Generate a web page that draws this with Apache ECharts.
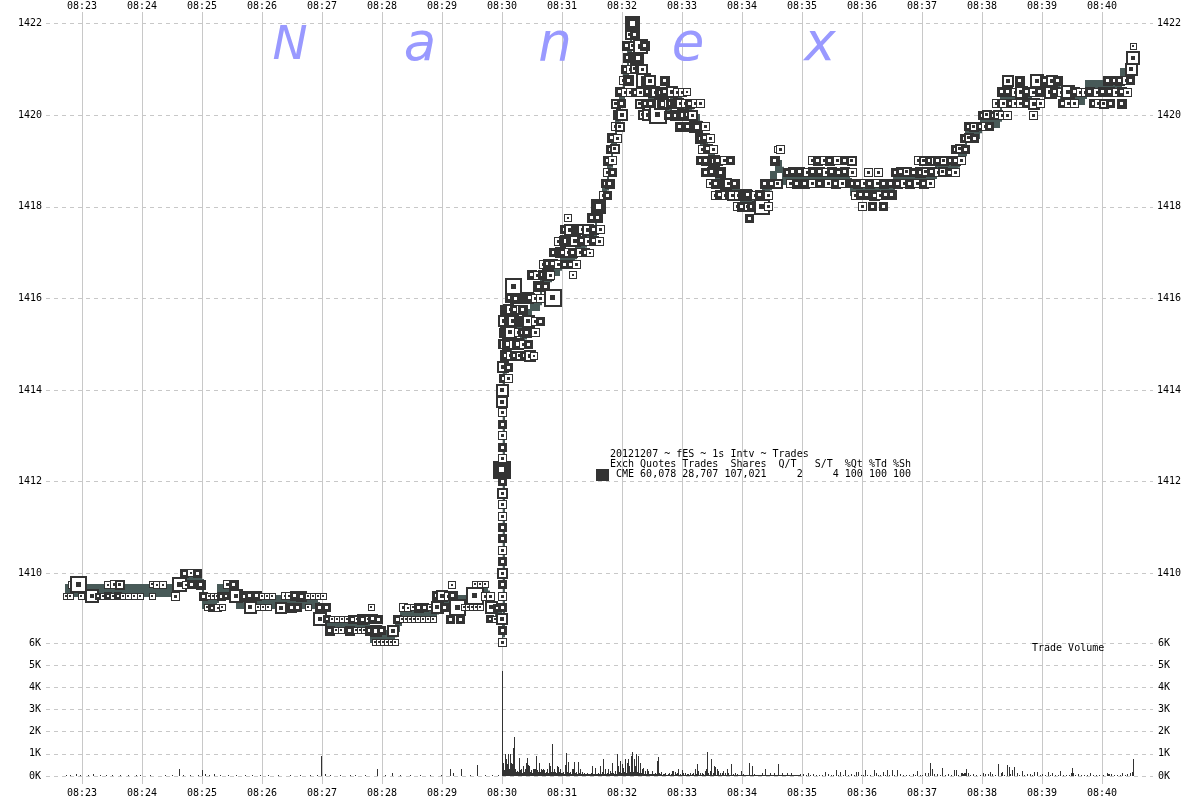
<!DOCTYPE html>
<html><head><meta charset="utf-8">
<script src="https://cdn.jsdelivr.net/npm/echarts@6/dist/echarts.min.js"></script>
<style>html,body{margin:0;padding:0;background:#fff}#c{width:1200px;height:800px}</style>
</head><body><div id="c"></div>
<script>
// time values are seconds after 08:00:00
const baseHour = 8;
const priceLabels = [1410, 1412, 1414, 1416, 1418, 1420, 1422];
const volLabelsK = [0, 1, 2, 3, 4, 5, 6];

// trades: [second, price, lots, filled(1)/hollow(0)]
const trades = [
[1364,1409.5,1,0],[1368,1409.5,1,0],[1379,1409.5,1,0],[1390,1409.5,15,0],[1396,1409.5,1,1],[1401,1409.5,1,0],[1406,1409.5,2,1],[1411,1409.5,1,0],[1416,1409.5,2,1],[1421,1409.5,1,0],[1426,1409.5,1,0],[1432,1409.5,1,0],[1438,1409.5,1,0],[1450,1409.5,1,0],[1473,1409.5,3,0],
[1370,1409.75,2,0],[1376,1409.75,25,0],[1406,1409.75,2,0],[1412,1409.75,3,0],[1418,1409.75,4,0],[1450,1409.75,1,0],[1455,1409.75,2,0],[1461,1409.75,2,0],[1477,1409.75,20,0],[1484,1409.75,2,0],[1489,1409.75,3,1],[1495,1409.75,3,1],[1499,1409.75,4,1],
[1482,1410,3,1],[1489,1410,2,0],[1495,1410,3,1],
[1501,1409.5,3,1],[1507,1409.5,1,0],[1511,1409.5,1,0],[1515,1409.5,1,0],[1519,1409.5,3,1],[1524,1409.5,2,1],[1534,1409.5,15,0],[1542,1409.5,6,1],[1548,1409.5,5,1],[1555,1409.5,4,1],[1560,1409.5,1,0],[1565,1409.5,1,0],[1570,1409.5,1,0],[1583,1409.5,2,0],[1587,1409.5,2,0],[1593,1409.5,5,1],[1599,1409.5,6,1],[1606,1409.5,1,0],[1611,1409.5,1,0],[1616,1409.5,1,0],[1621,1409.5,1,0],
[1525,1409.75,3,0],[1532,1409.75,4,1],
[1505,1409.25,1,0],[1510,1409.25,2,1],[1516,1409.25,2,0],[1520,1409.25,1,0],[1548,1409.25,12,0],[1556,1409.25,1,0],[1561,1409.25,1,0],[1566,1409.25,1,0],[1579,1409.25,10,0],[1590,1409.25,4,1],[1595,1409.25,3,1],[1606,1409.25,1,0],[1618,1409.25,4,1],[1624,1409.25,3,1],
[1618,1409,15,0],
[1625,1409,2,1],[1630,1409,1,0],[1635,1409,1,0],[1640,1409,1,0],[1645,1409,1,0],[1650,1409,3,1],[1655,1409,1,0],[1660,1409,6,1],[1666,1409,1,0],[1671,1409,4,1],[1676,1409,3,1],
[1628,1408.75,5,1],[1634,1408.75,1,0],[1639,1408.75,1,0],[1648,1408.75,5,1],[1654,1408.75,1,0],[1658,1408.75,1,0],[1662,1408.75,1,0],[1668,1408.75,4,1],[1674,1408.75,8,1],[1679,1408.75,3,1],[1691,1408.75,10,0],
[1673,1408.5,1,0],[1677,1408.5,1,0],[1681,1408.5,1,0],[1685,1408.5,1,0],[1689,1408.5,1,0],[1693,1408.5,1,0],
[1669,1409.25,1,0],
[1695,1409,3,1],[1700,1409,1,0],[1704,1409,1,0],[1708,1409,1,0],[1712,1409,1,0],[1716,1409,1,0],[1721,1409,1,0],[1726,1409,1,0],[1731,1409,1,0],[1748,1409,3,1],[1758,1409,3,1],[1788,1409,2,1],[1793,1409,1,0],[1797,1409,1,0],
[1701,1409.25,3,0],[1706,1409.25,2,0],[1711,1409.25,1,0],[1717,1409.25,4,1],[1722,1409.25,3,1],[1728,1409.25,1,0],[1735,1409.25,12,0],[1742,1409.25,3,1],[1755,1409.25,25,0],[1762,1409.25,1,0],[1766,1409.25,1,0],[1770,1409.25,1,0],[1774,1409.25,1,0],[1778,1409.25,1,0],[1789,1409.25,12,0],[1795,1409.25,2,1],
[1735,1409.5,4,1],[1740,1409.5,8,0],[1746,1409.5,3,0],[1751,1409.5,4,1],[1773,1409.5,40,0],[1783,1409.5,3,0],[1788,1409.5,3,0],
[1750,1409.75,2,0],[1773,1409.75,1,0],[1778,1409.75,1,0],[1783,1409.75,1,0],
[1800,1408.5,3,0],[1800,1408.75,3,1],[1800,1409,8,0],[1800,1409.25,3,1],[1800,1409.5,3,0],[1800,1409.75,3,1],[1800,1410,6,0],[1800,1410.25,3,1],[1800,1410.5,3,0],[1800,1410.75,3,1],[1800,1411,3,1],[1800,1411.25,3,0],[1800,1411.5,3,0],[1800,1411.75,6,0],[1800,1412,3,1],[1800,1412.25,60,1],[1800,1412.5,3,0],[1800,1412.75,3,1],[1800,1413,3,0],[1800,1413.25,3,1],[1800,1413.5,3,0],[1800,1413.75,8,0],[1800,1414,12,0],
[1801,1414.25,3,1],[1806,1414.25,3,0],[1801,1414.5,10,0],[1806,1414.5,3,1],
[1802,1414.75,3,0],[1803,1414.75,6,1],[1808,1414.75,3,0],[1813,1414.75,4,1],[1818,1414.75,5,0],[1823,1414.75,4,1],[1828,1414.75,8,0],[1832,1414.75,2,0],
[1802,1415,3,0],[1801,1415,4,1],[1806,1415,8,1],[1811,1415,3,0],[1816,1415,8,1],[1821,1415,3,0],[1826,1415,3,1],
[1802,1415.25,4,1],[1803,1415.25,6,1],[1808,1415.25,12,0],[1816,1415.25,3,0],[1820,1415.25,3,1],[1825,1415.25,5,1],[1833,1415.25,3,0],
[1802,1415.5,10,0],[1801,1415.5,4,1],[1808,1415.5,10,1],[1811,1415.5,8,0],[1816,1415.5,3,0],[1818,1415.5,6,1],[1821,1415.5,6,1],[1826,1415.5,12,0],[1833,1415.5,3,0],[1838,1415.5,3,1],
[1803,1415.75,5,1],[1806,1415.75,6,1],[1808,1415.75,3,0],[1813,1415.75,5,1],[1818,1415.75,3,0],[1821,1415.75,5,1],
[1808,1416,5,1],[1813,1416,6,1],[1823,1416,6,1],[1826,1416,8,1],[1828,1416,5,1],[1833,1416,3,0],[1838,1416,3,0],[1851,1416,30,0],
[1811,1416.25,25,0],[1836,1416.25,6,1],[1843,1416.25,3,1],
[1830,1416.5,5,1],[1835,1416.5,3,0],[1841,1416.5,5,1],[1846,1416.5,8,1],[1848,1416.5,3,0],[1871,1416.5,2,0],
[1841,1416.75,3,0],[1846,1416.75,5,1],[1851,1416.75,5,1],[1856,1416.75,3,0],[1862,1416.75,3,1],[1868,1416.75,3,1],[1874,1416.75,3,0],
[1851,1417,3,1],[1856,1417,3,0],[1858,1417,6,1],[1861,1417,4,1],[1866,1417,3,0],[1871,1417,4,1],[1878,1417,3,0],[1883,1417,3,1],[1888,1417,2,0],
[1856,1417.25,3,0],[1862,1417.25,4,1],[1864,1417.25,8,1],[1868,1417.25,3,1],[1873,1417.25,8,0],[1880,1417.25,4,1],[1886,1417.25,3,0],[1892,1417.25,4,1],[1897,1417.25,3,0],
[1862,1417.5,3,1],[1868,1417.5,8,0],[1874,1417.5,4,1],[1877,1417.5,6,1],[1880,1417.5,3,0],[1886,1417.5,8,0],[1892,1417.5,5,1],[1898,1417.5,3,0],
[1866,1417.75,2,0],[1890,1417.75,4,1],[1896,1417.75,4,1],
[1896,1418,20,1],
[1901,1418.25,3,0],[1905,1418.25,3,1],[1903,1418.5,3,1],[1908,1418.5,4,1],[1905,1418.75,3,0],[1910,1418.75,3,1],[1906,1419,4,1],[1910,1419,3,0],[1908,1419.25,3,1],[1913,1419.25,4,0],[1910,1419.5,4,1],[1915,1419.5,3,0],[1913,1419.75,3,0],[1918,1419.75,4,0],[1916,1420,5,1],[1920,1420,8,0],[1914,1420.25,4,0],[1919,1420.25,3,1],
[1918,1420.5,5,1],[1923,1420.5,3,0],[1928,1420.5,3,0],[1933,1420.5,3,1],[1938,1420.5,3,0],
[1921,1420.75,3,0],[1926,1420.75,6,1],[1941,1420.75,20,0],
[1923,1421,3,1],[1928,1421,3,0],[1933,1421,4,0],[1938,1421,5,1],[1940,1421,6,0],
[1926,1421.25,5,1],[1931,1421.25,6,0],[1934,1421.25,8,1],[1936,1421.25,8,1],
[1925,1421.5,4,1],[1931,1421.5,5,0],[1938,1421.5,20,0],[1943,1421.5,4,1],
[1928,1421.75,4,0],[1933,1421.75,5,1],
[1930,1422,18,1],
[1944,1420.75,5,1],[1948,1420.75,8,0],[1963,1420.75,5,1],
[1946,1420.5,5,1],[1952,1420.5,10,1],[1953,1420.5,3,0],[1958,1420.5,6,1],[1963,1420.5,5,1],[1968,1420.5,3,0],[1970,1420.5,8,0],[1975,1420.5,3,0],[1980,1420.5,3,0],[1985,1420.5,2,0],
[1938,1420.25,4,0],[1943,1420.25,3,1],[1948,1420.25,3,1],[1958,1420.25,8,0],[1961,1420.25,8,1],[1966,1420.25,3,0],[1969,1420.25,5,1],[1973,1420.25,4,1],[1976,1420.25,6,1],[1978,1420.25,3,0],[1983,1420.25,3,0],[1988,1420.25,4,1],[1993,1420.25,3,0],[1998,1420.25,3,0],
[1941,1420,4,0],[1946,1420,8,0],[1951,1420,6,1],[1956,1420,30,0],[1966,1420,3,1],[1973,1420,6,1],[1978,1420,3,0],[1981,1420,10,1],[1986,1420,4,1],[1990,1420,6,0],
[1978,1419.75,4,1],[1986,1419.75,5,1],[1993,1419.75,8,0],[1995,1419.75,8,1],[2003,1419.75,3,0],
[1998,1419.5,6,1],[2003,1419.5,4,1],[2008,1419.5,3,0],
[2000,1419.25,3,0],[2006,1419.25,5,1],[2011,1419.25,3,0],
[1998,1419,3,1],[2004,1419,4,1],[2010,1419,3,0],[2012,1419,8,1],[2016,1419,5,1],[2022,1419,3,0],[2028,1419,3,1],
[2003,1418.75,3,1],[2010,1418.75,5,1],[2016,1418.75,3,0],[2018,1418.75,6,1],
[2008,1418.5,3,0],[2014,1418.5,4,1],[2020,1418.5,5,1],[2024,1418.5,8,1],[2026,1418.5,3,0],[2032,1418.5,3,0],[2033,1418.5,5,1],
[2013,1418.25,3,0],[2018,1418.25,5,1],[2023,1418.25,3,0],[2028,1418.25,4,1],[2030,1418.25,6,0],[2036,1418.25,3,0],[2041,1418.25,6,1],[2044,1418.25,8,1],[2046,1418.25,5,1],[2053,1418.25,3,0],[2058,1418.25,5,1],[2066,1418.25,3,0],
[2035,1418,3,0],[2040,1418,4,1],[2046,1418,5,0],[2050,1418,5,1],[2055,1418,6,1],[2060,1418,22,0],[2066,1418,3,0],
[2047,1417.75,3,1],
[2063,1418.5,5,1],[2070,1418.5,5,1],[2076,1418.5,4,0],
[2073,1419,4,1],[2075,1419.25,1,0],[2078,1419.25,3,0],
[2085,1418.75,3,1],[2091,1418.75,5,1],[2098,1418.75,4,1],[2105,1418.75,3,0],[2111,1418.75,4,1],[2118,1418.75,4,1],[2124,1418.75,3,0],[2130,1418.75,5,1],[2136,1418.75,3,1],[2143,1418.75,4,1],[2150,1418.75,3,0],
[2088,1418.5,3,0],[2095,1418.5,5,1],[2103,1418.5,4,1],[2110,1418.5,3,0],[2117,1418.5,3,1],[2126,1418.5,3,0],[2134,1418.5,4,1],[2140,1418.5,3,0],[2147,1418.5,3,1],
[2110,1419,3,0],[2116,1419,5,1],[2122,1419,3,0],[2128,1419,4,1],[2135,1419,3,0],[2142,1419,3,1],[2150,1419,4,0],
[2150,1418.5,3,1],[2156,1418.5,4,1],[2162,1418.5,3,0],[2168,1418.5,5,1],[2175,1418.5,3,0],[2182,1418.5,4,1],[2188,1418.5,3,1],
[2153,1418.25,3,0],[2159,1418.25,5,1],[2165,1418.25,4,1],[2172,1418.25,6,1],[2178,1418.25,3,0],[2184,1418.25,5,1],[2190,1418.25,4,1],
[2160,1418,3,0],[2170,1418,3,1],[2181,1418,3,1],
[2166,1418.75,3,0],[2176,1418.75,3,0],
[2193,1418.75,3,1],[2199,1418.75,5,1],[2205,1418.75,4,0],[2211,1418.75,3,1],[2218,1418.75,6,1],[2224,1418.75,5,0],[2230,1418.75,4,1],
[2196,1418.5,4,1],[2202,1418.5,3,0],[2208,1418.5,5,1],[2215,1418.5,3,0],[2222,1418.5,4,1],[2228,1418.5,3,0],
[2216,1419,3,0],[2222,1419,4,0],[2228,1419,5,1],[2233,1419,4,0],
[2236,1419,5,1],[2242,1419,4,0],[2248,1419,3,1],[2254,1419,4,1],[2259,1419,3,0],
[2236,1418.75,3,0],[2241,1418.75,5,0],[2247,1418.75,3,1],[2253,1418.75,3,0],
[2253,1419.25,3,1],[2258,1419.25,4,0],[2263,1419.25,3,1],
[2262,1419.5,3,1],[2267,1419.5,4,0],[2272,1419.5,3,1],
[2266,1419.75,3,1],[2272,1419.75,4,0],[2278,1419.75,3,1],[2283,1419.75,3,0],
[2280,1420,3,1],[2285,1420,4,0],[2291,1420,3,1],[2296,1420,4,0],[2300,1420,3,0],
[2287,1419.75,3,1],[2294,1420.25,3,0],[2299,1420.25,3,1],
[2306,1420.75,10,0],[2318,1420.75,4,1],[2335,1420.75,15,0],[2343,1420.75,4,1],[2350,1420.75,8,0],[2356,1420.75,4,1],[2406,1420.75,4,1],[2412,1420.75,3,1],[2418,1420.75,4,1],[2424,1420.75,3,0],[2428,1420.75,3,1],
[2300,1420.5,4,1],[2306,1420.5,5,1],[2313,1420.5,3,0],[2319,1420.5,12,0],[2325,1420.5,4,1],[2331,1420.5,3,0],[2338,1420.5,4,1],[2348,1420.5,12,0],[2353,1420.5,5,1],[2359,1420.5,3,0],[2366,1420.5,15,0],[2373,1420.5,4,1],[2378,1420.5,3,0],[2383,1420.5,3,0],[2388,1420.5,4,1],[2395,1420.5,3,0],[2401,1420.5,4,1],[2408,1420.5,4,1],[2414,1420.5,3,0],[2420,1420.5,4,1],[2425,1420.5,3,0],
[2301,1420.25,3,0],[2308,1420.25,3,1],[2313,1420.25,3,0],[2318,1420.25,3,0],[2324,1420.25,3,1],[2332,1420.25,10,0],[2338,1420.25,3,0],[2360,1420.25,3,1],[2366,1420.25,3,0],[2372,1420.25,3,0],[2391,1420.25,3,1],[2396,1420.25,3,0],[2402,1420.25,5,0],[2408,1420.25,3,1],[2420,1420.25,4,1],
[2300,1420,3,0],[2305,1420,3,0],[2331,1420,3,0],
[2429,1421,12,0],[2431,1421.25,15,0],[2431,1421.5,1,0]
];

// bid/ask band steps (last entry closes the band)
const bandSec = [1363,1478,1500,1515,1534,1616,1623,1668,1693,1698,1735,1778,1786,1793,1800,1801,1803,1808,1813,1818,1823,1828,1838,1848,1858,1873,1883,1893,1900,1905,1909,1913,1917,1921,1925,1928,1932,1938,1946,1958,1968,1980,1990,1998,2006,2013,2023,2038,2060,2068,2073,2080,2148,2191,2233,2256,2263,2278,2298,2328,2358,2383,2418,2428,2433];
const bandBid = [1409.5,1409.75,1409.25,1409.5,1409.25,1409,1408.75,1408.5,1408.75,1409,1409.25,1409.5,1409.25,1409,1408.5,1414.25,1414.75,1415,1415.25,1415,1415.5,1415.75,1416.25,1416.5,1416.75,1417,1417.25,1417.75,1418.25,1418.75,1419.25,1419.75,1420.25,1420.75,1421.25,1421.75,1421.25,1420.75,1420.25,1420,1420.25,1420,1419.75,1419.25,1419,1418.5,1418.25,1418,1418.25,1418.5,1418.75,1418.5,1418.25,1418.5,1418.75,1419,1419.5,1419.75,1420.25,1420.5,1420.25,1420.5,1420.75,1421,1421];
const bandAsk = [1409.75,1410,1409.5,1409.75,1409.5,1409.25,1409,1408.75,1409,1409.25,1409.5,1409.75,1409.5,1409.25,1408.75,1414.5,1415,1415.25,1415.5,1415.25,1415.75,1416,1416.5,1416.75,1417,1417.25,1417.5,1418,1418.5,1419,1419.5,1420,1420.5,1421,1421.5,1422,1421.5,1421,1420.5,1420.25,1420.5,1420.25,1420,1419.5,1419.25,1418.75,1418.5,1418.25,1418.5,1418.75,1419,1418.75,1418.5,1418.75,1419,1419.25,1419.75,1420,1420.5,1420.75,1420.5,1420.75,1421,1421.25,1421.25];

// trade volume (shares) per second
const volPreSec = [1364,1368,1374,1378,1386,1391,1398,1404,1410,1418,1426,1434,1438,1448,1463,1470,1477,1481,1488,1496,1500,1503,1507,1512,1518,1526,1534,1543,1550,1558,1566,1576,1588,1598,1608,1615,1619,1623,1628,1638,1648,1653,1663,1675,1683,1690,1698,1708,1718,1728,1739,1748,1751,1759,1768,1775,1783,1790,1796];
const volPreAmt = [60,40,110,60,50,110,40,50,40,50,40,50,40,40,50,40,330,60,50,60,250,80,60,70,50,60,40,50,40,40,40,50,50,40,60,40,880,80,50,40,50,40,40,330,40,130,40,50,40,40,50,300,120,300,40,500,40,60,50];
const volDenseStart = 1800;
const volDense = [
4730,600,250,1000,750,550,1000,300,970,600,
550,1250,1750,300,200,220,200,800,250,300,
150,450,200,300,600,800,500,450,200,250,
150,300,300,300,900,250,200,600,200,300,
250,300,250,150,200,300,150,600,450,200,
1450,200,300,200,150,450,400,200,300,150,
150,200,100,500,1050,200,650,150,200,100,
300,300,650,150,200,100,650,150,300,100,
200,100,150,80,100,150,70,100,80,120,
450,100,80,350,100,70,150,100,450,80,
170,750,100,300,100,150,300,100,220,150,
570,150,100,220,100,1000,450,200,670,150,
520,370,200,750,150,600,780,450,200,900,
1070,200,750,450,1000,200,900,150,600,150,
300,370,100,220,100,300,220,100,100,80,
220,70,100,150,80,670,870,150,80,180,
60,70,80,150,50,60,70,120,60,80,
220,220,60,180,80,120,300,60,70,60,
270,150,60,120,50,70,100,50,150,60,
70,120,60,300,100,520,220,60,120,60,
150,70,60,220,300,1070,150,60,220,750,
60,150,450,420,60,300,220,60,150,60,
120,220,60,120,50,300,120,50,60,520,
50,70,40,150,50,70,40,50,60,220,
50,70,40,50,40,60,40,600,50,40,
450,40,70,40,50,40,40,50,40,40,
120,40,50,300,40,40,50,40,150,40,
40,50,120,40,40,40,520,40,50,40,
120,40,40,40,50,120,40,40,40,120,
40,40,40,40,40,40,40,40,70,0];
const volPostSec = [2101,2104,2106,2108,2111,2114,2117,2120,2123,2126,2129,2131,2134,2136,2138,2141,2143,2146,2149,2152,2154,2156,2159,2161,2163,2165,2168,2172,2174,2176,2178,2181,2183,2185,2187,2190,2192,2195,2198,2201,2204,2207,2211,2213,2215,2218,2220,2223,2226,2228,2230,2232,2235,2238,2240,2243,2246,2249,2252,2254,2256,2259,2260,2261,2262,2263,2264,2266,2268,2271,2274,2278,2281,2283,2286,2288,2290,2293,2296,2299,2300,2302,2305,2307,2308,2310,2312,2315,2317,2320,2322,2325,2328,2330,2332,2335,2338,2340,2343,2346,2348,2350,2353,2356,2358,2361,2364,2367,2369,2370,2371,2373,2376,2379,2382,2385,2388,2391,2394,2397,2401,2405,2406,2407,2409,2412,2415,2418,2420,2423,2425,2428,2430,2431];
const volPostAmt = [70,40,120,40,70,40,40,40,200,100,40,40,250,40,200,40,250,40,100,40,200,200,40,40,270,60,40,270,150,40,40,200,40,270,40,250,40,250,70,40,40,40,70,40,220,40,40,120,120,600,300,100,100,40,370,40,70,40,270,250,40,150,120,100,150,120,300,120,40,70,40,40,150,70,100,200,100,40,550,120,180,40,500,420,100,250,400,150,40,220,40,100,70,40,200,200,40,70,40,170,40,150,40,40,220,40,40,40,120,370,150,40,70,40,40,40,120,40,40,40,40,120,80,100,70,40,40,40,150,40,70,150,200,770];

const DARK = '#333333';
const BAND = '#485a58';
const GRIDC = '#c8c8c8';
const FONT = 'DejaVu Sans Mono';

const pad2 = n => String(n).padStart(2, '0');
const fmtTime = v => pad2(baseHour + Math.floor(v / 3600)) + ':' + pad2(Math.floor((v % 3600) / 60));

const tradeData = trades.map((t, i) => [t[0], t[1], t[2], t[3], i]).sort((a, b) => a[0] - b[0] || a[4] - b[4]);

const bandData = [];
for (let i = 0; i < bandSec.length - 1; i++) {
  const pm = i > 0 ? (bandBid[i - 1] + bandAsk[i - 1]) / 2 : (bandBid[i] + bandAsk[i]) / 2;
  bandData.push([bandSec[i], bandSec[i + 1], bandBid[i], bandAsk[i], pm]);
}

const volData = [];
volPreSec.forEach((s, i) => volData.push([s, volPreAmt[i]]));
volDense.forEach((v, i) => { if (v > 0) volData.push([volDenseStart + i, v]); });
volPostSec.forEach((s, i) => volData.push([s, volPostAmt[i]]));

function renderTrade(params, api) {
  const c = api.coord([api.value(0), api.value(1)]);
  const s = Math.min(18, Math.round(5 + 2.3 * Math.sqrt(api.value(2))));
  const x0 = Math.round(c[0] - s / 2), y0 = Math.round(c[1] - s / 2);
  const filled = api.value(3) === 1;
  const b = s >= 10 ? 2 : 1;
  const ci = Math.max(2, Math.round(s * 0.3));
  const off = Math.floor((s - ci) / 2);
  const ch = [{ type: 'rect', shape: { x: x0, y: y0, width: s, height: s }, style: { fill: DARK } }];
  if (!filled) ch.push({ type: 'rect', shape: { x: x0 + b, y: y0 + b, width: s - 2 * b, height: s - 2 * b }, style: { fill: '#fff' } });
  ch.push({ type: 'rect', shape: { x: x0 + off, y: y0 + off, width: ci, height: ci }, style: { fill: filled ? '#fff' : DARK } });
  return { type: 'group', children: ch };
}

function renderBand(params, api) {
  const a = api.coord([api.value(0), api.value(3)]);
  const b = api.coord([api.value(1), api.value(2)]);
  const pm = api.coord([api.value(0), api.value(4)]);
  const mid = (a[1] + b[1]) / 2;
  const x0 = Math.round(a[0]), x1 = Math.round(b[0]);
  const yT = Math.round(a[1]) - 1, yB = Math.round(b[1]) + 1;
  const ch = [{ type: 'rect', shape: { x: x0, y: yT, width: Math.max(1, x1 - x0), height: yB - yT }, style: { fill: BAND } }];
  ch.push({ type: 'rect', shape: { x: x0, y: Math.min(pm[1], mid), width: 2, height: Math.abs(pm[1] - mid) + 1 }, style: { fill: BAND } });
  return { type: 'group', children: ch };
}

function renderVol(params, api) {
  const top = api.coord([api.value(0), api.value(1)]);
  const base = api.coord([api.value(0), 0]);
  const x = Math.round(top[0]);
  const y = Math.round(top[1]);
  return { type: 'rect', shape: { x: x, y: y, width: 1, height: Math.round(base[1]) - y }, style: { fill: DARK } };
}

const labelStyle = { fontFamily: FONT, fontSize: 10, color: '#000' };
const hiddenX = (gi, mn) => ({ type: 'value', gridIndex: gi, min: mn, max: 2451, show: false });
const wm = (ch, x, y, size) => ({ type: 'text', x: x, y: y, z: 1, style: { text: ch, font: 'oblique ' + size + 'px "DejaVu Sans"', fill: '#9999ff', align: 'center', verticalAlign: 'middle', textAlign: 'center', textVerticalAlign: 'middle' } });
const lg = (txt, x, y) => ({ type: 'text', x: x, y: y, z: 10, style: { text: txt, font: '10px "DejaVu Sans Mono"', fill: '#000', verticalAlign: 'middle', textVerticalAlign: 'middle' } });

const chart = echarts.init(document.getElementById('c'), null, { renderer: 'canvas' });
chart.setOption({
  animation: false,
  backgroundColor: '#fff',
  grid: [
    { left: 22, right: 47, top: 12, bottom: 16 },
    { left: 46, right: 47, top: 12, bottom: 135 },
    { left: 46, right: 47, top: 643, bottom: 24 }
  ],
  xAxis: [
    { type: 'value', gridIndex: 0, position: 'top', min: 1320, max: 2451, interval: 60,
      axisLine: { show: false }, axisTick: { show: false },
      axisLabel: Object.assign({ formatter: fmtTime, margin: 1, showMinLabel: false, showMaxLabel: false }, labelStyle),
      splitLine: { show: true, showMinLine: false, showMaxLine: false, lineStyle: { color: GRIDC, width: 1, type: 'solid' } } },
    { type: 'value', gridIndex: 0, position: 'bottom', min: 1320, max: 2451, interval: 60,
      axisLine: { show: false }, axisTick: { show: false },
      axisLabel: Object.assign({ formatter: fmtTime, margin: 4, showMinLabel: false, showMaxLabel: false }, labelStyle),
      splitLine: { show: false } },
    hiddenX(1, 1344),
    hiddenX(2, 1344)
  ],
  yAxis: [
    { type: 'value', gridIndex: 0, min: 0, max: 1, show: false },
    { type: 'value', gridIndex: 1, position: 'left', min: 1408, max: 1422.25, interval: 2,
      axisLine: { show: false }, axisTick: { show: false },
      axisLabel: Object.assign({ margin: 4, showMinLabel: false, showMaxLabel: false, formatter: v => priceLabels.includes(v) ? String(v) : '' }, labelStyle),
      splitLine: { show: true, showMinLine: false, showMaxLine: false, lineStyle: { color: GRIDC, width: 1, type: [4, 4] } } },
    { type: 'value', gridIndex: 1, position: 'right', min: 1408, max: 1422.25, interval: 2,
      axisLine: { show: false }, axisTick: { show: false },
      axisLabel: Object.assign({ margin: 4, showMinLabel: false, showMaxLabel: false, formatter: v => priceLabels.includes(v) ? String(v) : '' }, labelStyle),
      splitLine: { show: false } },
    { type: 'value', gridIndex: 2, position: 'left', min: 0, max: 6000, interval: 1000,
      axisLine: { show: false }, axisTick: { show: false },
      axisLabel: Object.assign({ margin: 5, formatter: v => volLabelsK.includes(v / 1000) ? (v / 1000) + 'K' : '' }, labelStyle),
      splitLine: { show: true, lineStyle: { color: GRIDC, width: 1, type: [4, 4] } } },
    { type: 'value', gridIndex: 2, position: 'right', min: 0, max: 6000, interval: 1000,
      axisLine: { show: false }, axisTick: { show: false },
      axisLabel: Object.assign({ margin: 5, formatter: v => volLabelsK.includes(v / 1000) ? (v / 1000) + 'K' : '' }, labelStyle),
      splitLine: { show: false } }
  ],
  series: [
    { type: 'custom', name: 'band', xAxisIndex: 2, yAxisIndex: 1, renderItem: renderBand, data: bandData, silent: true, z: 2 },
    { type: 'custom', name: 'trades', xAxisIndex: 2, yAxisIndex: 1, renderItem: renderTrade, data: tradeData, silent: true, z: 3 },
    { type: 'custom', name: 'Trade Volume', xAxisIndex: 3, yAxisIndex: 3, renderItem: renderVol, data: volData, silent: true, z: 3 }
  ],
  graphic: [
    wm('N', 290, 47, 47), wm('a', 420, 46, 53), wm('n', 555, 46, 53), wm('e', 688, 46, 53), wm('x', 820, 46, 53),
    { type: 'rect', z: 10, shape: { x: 596, y: 469, width: 13, height: 12 }, style: { fill: DARK } },
    lg('20121207 ~ fES ~ 1s Intv ~ Trades', 610, 454.5),
    lg('Exch Quotes Trades  Shares  Q/T   S/T  %Qt %Td %Sh', 610, 464.5),
    lg(' CME 60,078 28,707 107,021     2     4 100 100 100', 610, 474.5),
    lg('Trade Volume', 1032, 648)
  ]
});
</script></body></html>
